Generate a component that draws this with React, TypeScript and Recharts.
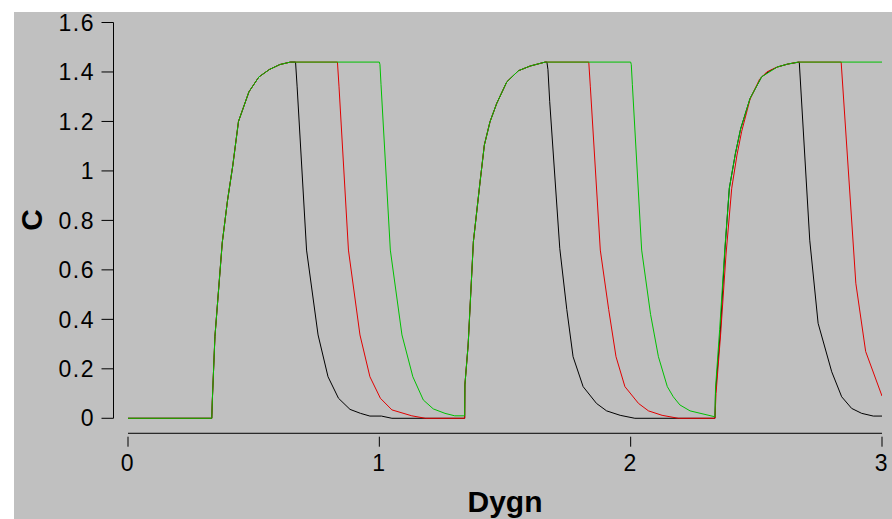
import { LineChart, Line, XAxis, YAxis, ReferenceLine } from "recharts";

// time in hours (axis shows days), concentration C
const blackT = [0, 8.0, 8.05, 8.3, 9.0, 9.5, 10.0, 10.55, 11.55, 12.5, 13.5, 14.5, 15.5, 16.0, 16.15, 17.05, 18.15, 19.1, 20.1, 21.2, 22.2, 23.1, 24.2, 25.2, 32.15, 32.17, 32.48, 32.98, 33.62, 34.03, 34.57, 35.21, 36.17, 37.28, 38.4, 39.83, 40.0, 40.1, 40.27, 41.23, 41.9, 42.5, 43.46, 44.74, 45.7, 47.0, 48.4, 56.05, 56.1, 56.55, 57.0, 57.42, 58.0, 58.5, 59.4, 60.5, 61.3, 62.0, 63.0, 64.1, 65.1, 65.9, 67.2, 68.15, 69.1, 70.06, 71.17, 72.0];
const blackC = [0, 0, 0.07, 0.33, 0.71, 0.88, 1.02, 1.2, 1.32, 1.38, 1.41, 1.43, 1.44, 1.44, 1.34, 0.68, 0.337, 0.168, 0.081, 0.036, 0.02, 0.009, 0.009, 0, 0, 0.135, 0.296, 0.714, 0.956, 1.105, 1.199, 1.273, 1.36, 1.405, 1.424, 1.44, 1.44, 1.41, 1.28, 0.687, 0.44, 0.249, 0.128, 0.06, 0.03, 0.012, 0, 0, 0.1, 0.345, 0.68, 0.93, 1.07, 1.17, 1.293, 1.38, 1.405, 1.42, 1.432, 1.44, 0.72, 0.384, 0.188, 0.087, 0.04, 0.02, 0.009, 0.009];

const redT = [0, 8.0, 8.05, 8.3, 9.0, 9.5, 10.0, 10.55, 11.55, 12.5, 13.5, 14.5, 15.5, 20.0, 20.15, 21.05, 22.15, 23.1, 24.1, 25.2, 27.1, 28.4, 32.15, 32.17, 32.48, 32.98, 33.62, 34.03, 34.57, 35.21, 36.17, 37.28, 38.4, 39.83, 44.0, 44.15, 45.1, 45.9, 46.6, 47.45, 48.75, 49.7, 51.0, 52.55, 56.05, 56.15, 56.6, 57.1, 57.65, 58.15, 58.6, 59.4, 60.3, 61.0, 62.0, 63.0, 64.0, 68.1, 69.5, 70.44, 72.0];
const redC = [0, 0, 0.07, 0.33, 0.71, 0.88, 1.02, 1.2, 1.32, 1.38, 1.41, 1.43, 1.44, 1.44, 1.34, 0.68, 0.337, 0.168, 0.081, 0.034, 0.01, 0, 0, 0.135, 0.296, 0.714, 0.956, 1.105, 1.199, 1.273, 1.36, 1.405, 1.424, 1.44, 1.44, 1.34, 0.68, 0.44, 0.249, 0.128, 0.06, 0.03, 0.012, 0, 0, 0.1, 0.345, 0.66, 0.93, 1.064, 1.16, 1.29, 1.37, 1.4, 1.42, 1.432, 1.44, 1.44, 0.546, 0.27, 0.09];

const greenT = [0, 8.0, 8.05, 8.3, 9.0, 9.5, 10.0, 10.55, 11.55, 12.5, 13.5, 14.5, 15.5, 24.0, 24.06, 24.16, 25.05, 26.16, 27.2, 28.2, 29.15, 30.27, 31.2, 32.15, 32.17, 32.48, 32.98, 33.62, 34.03, 34.57, 35.21, 36.17, 37.28, 38.4, 39.83, 48.0, 48.06, 48.16, 49.05, 49.9, 50.65, 51.5, 52.07, 52.7, 53.67, 56.05, 56.1, 56.5, 57.0, 57.42, 58.0, 58.5, 59.4, 60.5, 62.0, 63.0, 64.0, 72.0];
const greenC = [0, 0, 0.07, 0.33, 0.71, 0.88, 1.02, 1.2, 1.32, 1.38, 1.41, 1.43, 1.44, 1.44, 1.43, 1.35, 0.68, 0.337, 0.168, 0.074, 0.038, 0.02, 0.01, 0.01, 0.135, 0.296, 0.714, 0.956, 1.105, 1.199, 1.273, 1.36, 1.405, 1.424, 1.44, 1.44, 1.43, 1.35, 0.68, 0.42, 0.249, 0.128, 0.087, 0.054, 0.03, 0.006, 0.12, 0.36, 0.69, 0.93, 1.07, 1.17, 1.293, 1.38, 1.42, 1.432, 1.44, 1.44];

const xTicks = [0, 24, 48, 72];
const yTicks = [0, 0.2, 0.4, 0.6, 0.8, 1, 1.2, 1.4, 1.6];

const toRows = (t: number[], c: number[]) => t.map((h, i) => ({ t: h, c: c[i] }));
const blackData = toRows(blackT, blackC);
const redData = toRows(redT, redC);
const greenData = toRows(greenT, greenC);

// axes sit a little outside the data region, like base R plots
const X_MIN = -1.385;
const Y_MIN = -0.0744;
const X_AXIS_LEVEL = -0.0606;

const font = "'Liberation Sans', Arial, Helvetica, sans-serif";
const tickStyle = { fontSize: 23, fill: "#000", fontFamily: font, letterSpacing: 1.5 };

export default function App() {
  return (
    <div style={{ position: "absolute", left: 0, top: 0, width: 892, height: 519 }}>
      <div
        style={{
          position: "absolute",
          left: 14,
          top: 12,
          width: 878,
          height: 507,
          background: "#c0c0c0",
        }}
      />
      <div style={{ position: "absolute", left: 14, top: 0 }}>
        <LineChart
          width={878}
          height={519}
          margin={{ top: 22.5, right: 10, bottom: 0, left: 0 }}
        >
          <XAxis
            type="number"
            dataKey="t"
            domain={[X_MIN, 72]}
            allowDataOverflow
            ticks={xTicks}
            interval={0}
            tickFormatter={(v) => String(v / 24)}
            axisLine={false}
            tickLine={{ stroke: "#000" }}
            tickSize={10}
            tickMargin={8}
            tick={tickStyle}
            height={82.3}
            label={() => (
              <text
                x={491}
                y={511.7}
                textAnchor="middle"
                fontFamily={font}
                fontWeight="bold"
                fontSize={30}
                fill="#000"
              >
                Dygn
              </text>
            )}
          />
          <YAxis
            type="number"
            domain={[Y_MIN, 1.6]}
            allowDataOverflow
            ticks={yTicks}
            interval={0}
            axisLine={false}
            tickLine={{ stroke: "#000" }}
            tickSize={12}
            tickMargin={6.5}
            tick={tickStyle}
            width={99.5}
            label={() => (
              <text
                x={17}
                y={220}
                transform="rotate(-90, 17, 220)"
                textAnchor="middle"
                dominantBaseline="central"
                fontFamily={font}
                fontWeight="bold"
                fontSize={30}
                fill="#000"
              >
                C
              </text>
            )}
          />
          <ReferenceLine
            segment={[
              { x: 0, y: X_AXIS_LEVEL },
              { x: 72, y: X_AXIS_LEVEL },
            ]}
            stroke="#000"
            ifOverflow="visible"
          />
          <ReferenceLine
            segment={[
              { x: X_MIN, y: 0 },
              { x: X_MIN, y: 1.6 },
            ]}
            stroke="#000"
            ifOverflow="visible"
          />
          <Line
            data={blackData}
            dataKey="c"
            type="linear"
            stroke="#000000"
            strokeWidth={1}
            dot={false}
            isAnimationActive={false}
          />
          <Line
            data={redData}
            dataKey="c"
            type="linear"
            stroke="#e00000"
            strokeWidth={1}
            dot={false}
            isAnimationActive={false}
          />
          <Line
            data={greenData}
            dataKey="c"
            type="linear"
            stroke="#00c000"
            strokeWidth={1}
            dot={false}
            isAnimationActive={false}
          />
        </LineChart>
      </div>
    </div>
  );
}
